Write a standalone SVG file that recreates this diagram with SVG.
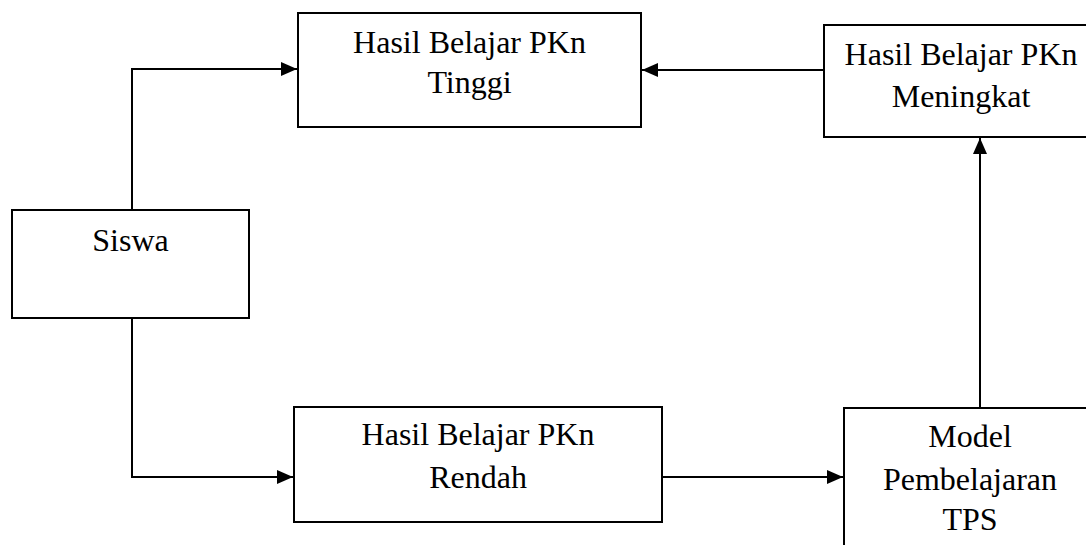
<svg xmlns="http://www.w3.org/2000/svg" width="1086" height="545" viewBox="0 0 1086 545">
<defs>
<style>
.box{fill:#fff;stroke:#000;stroke-width:2}
.t{font-family:"Liberation Serif","Times New Roman",serif;font-size:32px;fill:#000;text-anchor:middle}
.c{fill:none;stroke:#000;stroke-width:2}
</style>
<marker id="ah" markerUnits="userSpaceOnUse" markerWidth="16" markerHeight="14" refX="16" refY="7" orient="auto">
<path d="M0,0 L16,7 L0,14 Z" fill="#000"/>
</marker>
</defs>
<rect width="1086" height="545" fill="#fff"/>
<g id="connectors">
<path class="c" d="M132,210 L132,69 L297,69" marker-end="url(#ah)"/>
<path class="c" d="M824,70 L642,70" marker-end="url(#ah)"/>
<path class="c" d="M980,408 L980,138" marker-end="url(#ah)"/>
<path class="c" d="M132,318 L132,477 L293,477" marker-end="url(#ah)"/>
<path class="c" d="M662,477 L843,477" marker-end="url(#ah)"/>
</g>
<g id="tinggi">
<rect class="box" x="298" y="13" width="343" height="114"/>
<text class="t" x="469.5" y="53">Hasil Belajar PKn</text>
<text class="t" x="469.5" y="93">Tinggi</text>
</g>
<g id="meningkat">
<rect class="box" x="824" y="25" width="274" height="112"/>
<text class="t" x="961" y="65">Hasil Belajar PKn</text>
<text class="t" x="961" y="107">Meningkat</text>
</g>
<g id="siswa">
<rect class="box" x="12" y="210" width="237" height="108"/>
<text class="t" x="130.5" y="251">Siswa</text>
</g>
<g id="rendah">
<rect class="box" x="294" y="407" width="368" height="115"/>
<text class="t" x="478" y="445">Hasil Belajar PKn</text>
<text class="t" x="478" y="488">Rendah</text>
</g>
<g id="model">
<rect class="box" x="844" y="408" width="252" height="150"/>
<text class="t" x="970" y="447">Model</text>
<text class="t" x="970" y="490">Pembelajaran</text>
<text class="t" x="970" y="530">TPS</text>
</g>
</svg>
